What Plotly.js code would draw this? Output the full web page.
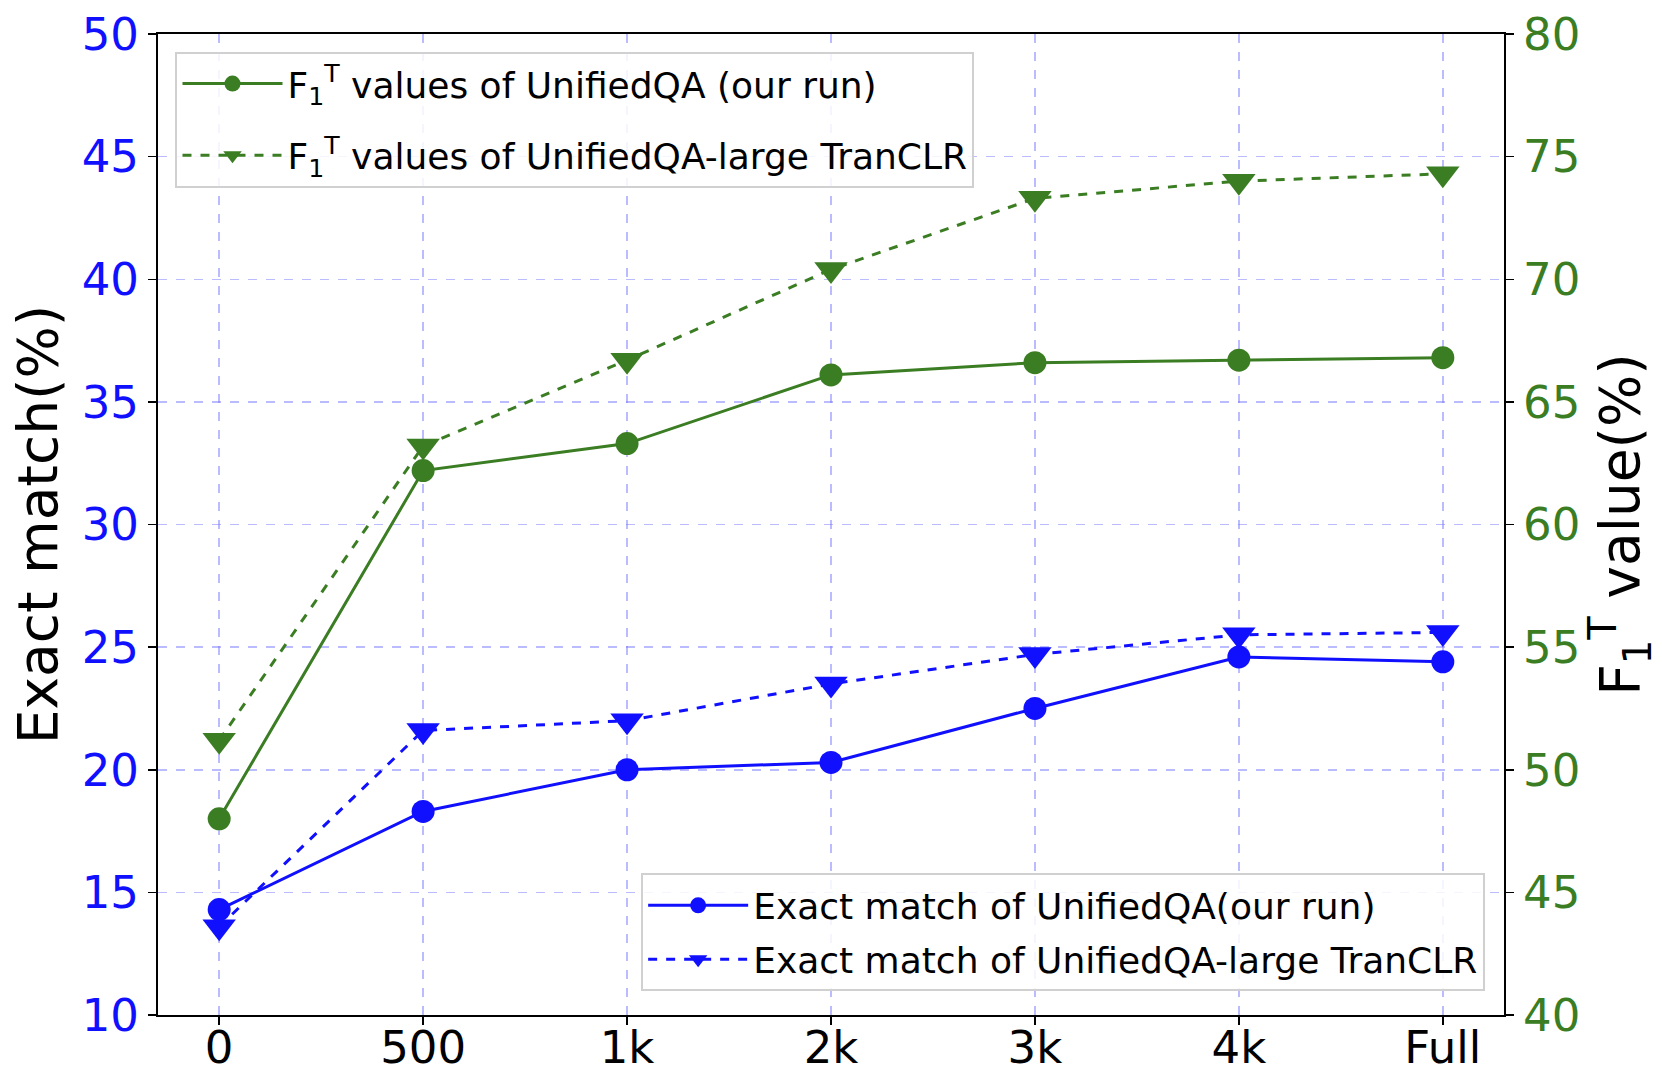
<!DOCTYPE html>
<html>
<head>
<meta charset="utf-8">
<script src="https://cdn.plot.ly/plotly-3.0.1.min.js"></script>
<style>
  html, body { margin: 0; padding: 0; background: #fff; }
  #chart { width: 1662px; height: 1074px; }
</style>
</head>
<body>
<div id="chart"></div>
<script>
// ----- data -----
const sizes = ["0", "500", "1k", "2k", "3k", "4k", "Full"];

// exact match (left axis, %)
const emOurRun   = [14.3, 18.3, 20.0, 20.3, 22.5, 24.6, 24.4];
const emTranCLR  = [13.6, 21.6, 22.0, 23.5, 24.7, 25.5, 25.6];

// F1^T values (right axis, %)
const f1OurRun   = [48.0, 62.2, 63.3, 66.1, 66.6, 66.7, 66.8];
const f1TranCLR  = [51.2, 63.2, 66.7, 70.4, 73.3, 74.0, 74.3];

// ----- styling -----
const BLUE  = "#1010ff";
const GREEN = "#3b7d23";
const FONT  = "DejaVu Sans, sans-serif";
const GRID  = "rgba(120,120,255,0.5)";

const F1T = "F<sub>1</sub><sup>T</sup>";

function series(y, name, color, dash, symbol, yaxis, legend) {
  return {
    type: "scatter",
    mode: "lines+markers",
    x: sizes,
    y: y,
    name: name,
    yaxis: yaxis,
    legend: legend,
    line: { color: color, width: 3, dash: dash },
    marker: { color: color, size: symbol === "circle" ? 23 : 29, symbol: symbol }
  };
}

const traces = [
  series(emOurRun,  "Exact match of UnifiedQA(our run)",     BLUE,  "solid", "circle",        "y",  "legend2"),
  series(emTranCLR, "Exact match of UnifiedQA-large TranCLR", BLUE,  "dash",  "triangle-down", "y",  "legend2"),
  series(f1OurRun,  F1T + " values of UnifiedQA (our run)",   GREEN, "solid", "circle",        "y2", "legend"),
  series(f1TranCLR, F1T + " values of UnifiedQA-large TranCLR", GREEN, "dash", "triangle-down", "y2", "legend")
];

// legendgroup per trace so tracegroupgap spaces the entries
traces.forEach((t, i) => { t.legendgroup = "g" + i; });

const layout = {
  width: 1662,
  height: 1074,
  margin: { l: 158, r: 158, t: 34, b: 59 },
  paper_bgcolor: "#fff",
  plot_bgcolor: "#fff",
  font: { family: FONT, color: "#000" },
  xaxis: {
    type: "category",
    range: [-0.3, 6.3],
    tickfont: { size: 45, color: "#000" },
    ticks: "outside", ticklen: 8, tickwidth: 1.5, tickcolor: "#000",
    ticklabelstandoff: -16,
    showline: true, linecolor: "#000", linewidth: 2, mirror: true,
    showgrid: true, gridcolor: GRID, griddash: "dash", gridwidth: 1.5,
    zeroline: false
  },
  yaxis: {
    range: [10, 50],
    dtick: 5,
    tickfont: { size: 45, color: BLUE },
    title: { text: "Exact match(%)", font: { size: 55, color: "#000" }, standoff: 6 },
    ticks: "outside", ticklen: 8, tickwidth: 1.5, tickcolor: "#000",
    showline: true, linecolor: "#000", linewidth: 2, mirror: true,
    showgrid: true, gridcolor: GRID, griddash: "dash", gridwidth: 1.5,
    zeroline: false
  },
  yaxis2: {
    overlaying: "y",
    side: "right",
    range: [40, 80],
    dtick: 5,
    tickfont: { size: 45, color: GREEN },
    title: { text: F1T + " value(%)", font: { size: 55, color: "#000" }, standoff: 4 },
    ticks: "outside", ticklen: 8, tickwidth: 1.5, tickcolor: "#000",
    showline: true, linecolor: "#000", linewidth: 2,
    showgrid: false, zeroline: false
  },
  legend: {
    x: 0.013, y: 0.982, xanchor: "left", yanchor: "top",
    bgcolor: "rgba(255,255,255,0.85)",
    bordercolor: "#d0d0d0", borderwidth: 2,
    font: { size: 36, color: "#000", family: FONT },
    itemwidth: 100,
    tracegroupgap: 22
  },
  legend2: {
    x: 0.986, y: 0.024, xanchor: "right", yanchor: "bottom",
    bgcolor: "rgba(255,255,255,0.85)",
    bordercolor: "#d0d0d0", borderwidth: 2,
    font: { size: 36, color: "#000", family: FONT },
    itemwidth: 100,
    tracegroupgap: 4
  },
  showlegend: true
};

Plotly.newPlot("chart", traces, layout, { displayModeBar: false, staticPlot: true });
</script>
</body>
</html>
